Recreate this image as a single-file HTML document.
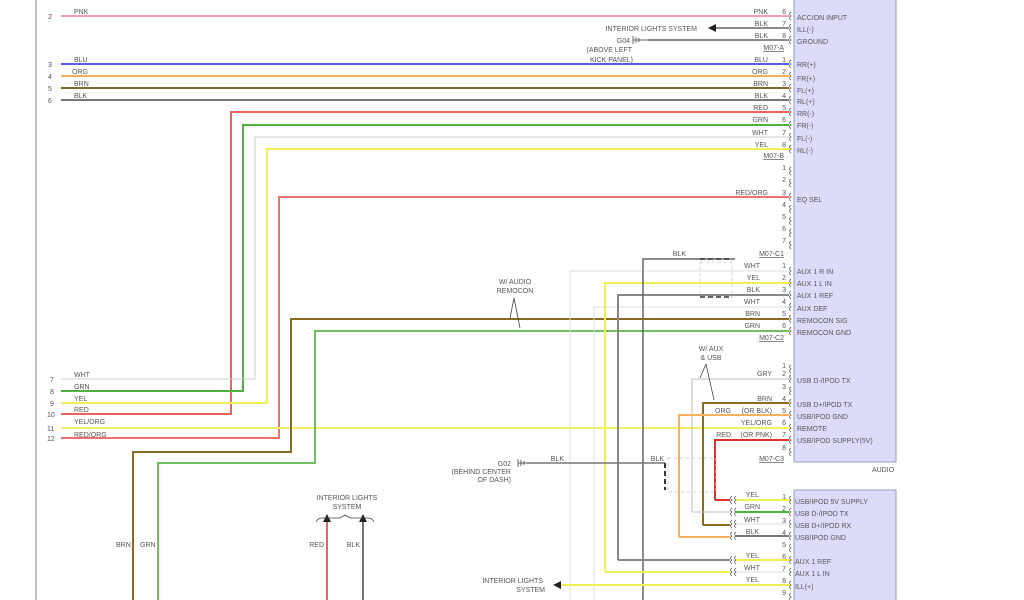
<!DOCTYPE html>
<html><head><meta charset="utf-8"><style>
html,body{margin:0;padding:0;background:#fff;width:1024px;height:600px;overflow:hidden}
text{font-family:"Liberation Sans",sans-serif;font-size:7px;fill:#555}
</style></head><body>
<svg width="1024" height="600" viewBox="0 0 1024 600" xmlns="http://www.w3.org/2000/svg">
<line x1="36" y1="0" x2="36" y2="600" stroke="#aaa" stroke-width="1.5"/>
<!-- boxes -->
<rect x="794" y="-2" width="102" height="464" fill="#dcdcfa" stroke="#9a9ac6"/>
<rect x="794" y="490" width="102" height="112" fill="#dcdcfa" stroke="#9a9ac6"/>
<text x="872" y="472">AUDIO</text>

<g fill="none" stroke-width="2">
<line x1="61" y1="16" x2="789" y2="16" stroke="#f4a0b0"/>
<line x1="61" y1="64" x2="789" y2="64" stroke="#5a5ae6"/>
<line x1="61" y1="76" x2="789" y2="76" stroke="#f3b060"/>
<line x1="61" y1="88" x2="789" y2="88" stroke="#7a6a30"/>
<line x1="61" y1="100" x2="789" y2="100" stroke="#777"/>
<polyline points="61,414 231,414 231,112 789,112" stroke="#f06060"/>
<polyline points="61,391 243,391 243,125 789,125" stroke="#50b040"/>
<polyline points="61,379 255,379 255,137 789,137" stroke="#ccc" stroke-width="1"/>
<polyline points="61,403 267,403 267,149 789,149" stroke="#f0f050"/>
<polyline points="61,438 279,438 279,197 789,197" stroke="#f07070"/>
<line x1="61" y1="428" x2="789" y2="428" stroke="#f4ee60"/>
<polyline points="133,600 133,452 291,452 291,319 789,319" stroke="#8a6a20"/>
<polyline points="158,600 158,463 315,463 315,331 789,331" stroke="#70c060"/>
<polyline points="570,600 570,271 789,271" stroke="#ddd" stroke-width="1"/>
<polyline points="594,600 594,307 789,307" stroke="#ddd" stroke-width="1"/>
<polyline points="605,572 605,283 789,283" stroke="#f0f050"/>
<polyline points="618,560 618,295 789,295" stroke="#888"/>
<polyline points="643,600 643,259 735,259" stroke="#666" stroke-width="1.5"/>
<polyline points="692,512 692,379 789,379" stroke="#bbb" stroke-width="1"/>
<polyline points="703,525 703,403 789,403" stroke="#8a6a20"/>
<polyline points="679,537 679,415 789,415" stroke="#f6b060"/>
<polyline points="715,500 715,440 789,440" stroke="#e03030"/>
<line x1="527" y1="463" x2="665" y2="463" stroke="#777" stroke-width="1.5"/>
<line x1="665" y1="463" x2="665" y2="490" stroke="#333" stroke-width="2" stroke-dasharray="5,3"/>
<line x1="735" y1="500" x2="789" y2="500" stroke="#f0f050"/>
<line x1="735" y1="512" x2="789" y2="512" stroke="#50b040"/>
<line x1="735" y1="524" x2="789" y2="524" stroke="#ddd" stroke-width="1"/>
<line x1="735" y1="536" x2="789" y2="536" stroke="#777"/>
<line x1="735" y1="560" x2="789" y2="560" stroke="#f0f050"/>
<line x1="735" y1="572" x2="789" y2="572" stroke="#ddd" stroke-width="1"/>
<line x1="560" y1="585" x2="789" y2="585" stroke="#f0f050"/>
<line x1="327" y1="520" x2="327" y2="600" stroke="#f06060"/>
<line x1="363" y1="520" x2="363" y2="600" stroke="#444" stroke-width="1.5"/>
<line x1="715" y1="28" x2="789" y2="28" stroke="#444" stroke-width="1.2"/>
<line x1="648" y1="40" x2="789" y2="40" stroke="#444" stroke-width="1.2"/>
<line x1="618" y1="463" x2="618" y2="463"/>
</g>
<!-- dashed shield boxes -->
<g fill="none" stroke="#ccc" stroke-dasharray="3,3">
<rect x="700" y="262" width="32" height="35"/>
<rect x="668" y="458" width="48" height="34"/>
</g>
<line x1="700" y1="259" x2="732" y2="259" stroke="#333" stroke-width="1.5" stroke-dasharray="5,3"/>
<line x1="700" y1="297" x2="732" y2="297" stroke="#333" stroke-width="1.5" stroke-dasharray="5,3"/>
<!-- arrows -->
<g fill="#222">
<polygon points="708,28 716,24 716,32"/>
<polygon points="553,585 561,581 561,589"/>
<polygon points="327,514 323,522 331,522"/>
<polygon points="363,514 359,522 367,522"/>
</g>
<g stroke="#444" fill="none" stroke-width="0.8">
<path d="M514,298 L510,318 M514,298 L520,328"/>
<path d="M706,364 L700,378 M706,364 L714,400"/>
<path d="M316,522 q2,-4 6,-4 h18 l5,-3 l5,3 h18 q4,0 6,4"/>
<line x1="633" y1="36" x2="633" y2="44"/><line x1="636" y1="37" x2="636" y2="43"/><line x1="639" y1="38" x2="639" y2="42"/><line x1="633" y1="40" x2="648" y2="40"/>
<line x1="518" y1="459" x2="518" y2="467"/><line x1="521" y1="460" x2="521" y2="466"/><line x1="524" y1="461" x2="524" y2="465"/><line x1="518" y1="463" x2="527" y2="463"/>
</g>
<!-- connector pin curls -->
<g fill="none" stroke="#666" stroke-width="0.8">
<path d="M791,12 q-3,2 0,4 q-3,2 0,4 M791,24 q-3,2 0,4 q-3,2 0,4 M791,36 q-3,2 0,4 q-3,2 0,4
M791,60 q-3,2 0,4 q-3,2 0,4 M791,72 q-3,2 0,4 q-3,2 0,4 M791,84 q-3,2 0,4 q-3,2 0,4 M791,96 q-3,2 0,4 q-3,2 0,4 M791,108 q-3,2 0,4 q-3,2 0,4 M791,121 q-3,2 0,4 q-3,2 0,4 M791,133 q-3,2 0,4 q-3,2 0,4 M791,145 q-3,2 0,4 q-3,2 0,4
M791,167 q-3,2 0,4 q-3,2 0,4 M791,179 q-3,2 0,4 q-3,2 0,4 M791,193 q-3,2 0,4 q-3,2 0,4 M791,205 q-3,2 0,4 q-3,2 0,4 M791,217 q-3,2 0,4 q-3,2 0,4 M791,229 q-3,2 0,4 q-3,2 0,4 M791,241 q-3,2 0,4 q-3,2 0,4
M791,267 q-3,2 0,4 q-3,2 0,4 M791,279 q-3,2 0,4 q-3,2 0,4 M791,291 q-3,2 0,4 q-3,2 0,4 M791,303 q-3,2 0,4 q-3,2 0,4 M791,315 q-3,2 0,4 q-3,2 0,4 M791,327 q-3,2 0,4 q-3,2 0,4
M791,365 q-3,2 0,4 q-3,2 0,4 M791,375 q-3,2 0,4 q-3,2 0,4 M791,387 q-3,2 0,4 q-3,2 0,4 M791,399 q-3,2 0,4 q-3,2 0,4 M791,411 q-3,2 0,4 q-3,2 0,4 M791,424 q-3,2 0,4 q-3,2 0,4 M791,436 q-3,2 0,4 q-3,2 0,4 M791,448 q-3,2 0,4 q-3,2 0,4
M791,496 q-3,2 0,4 q-3,2 0,4 M791,508 q-3,2 0,4 q-3,2 0,4 M791,520 q-3,2 0,4 q-3,2 0,4 M791,532 q-3,2 0,4 q-3,2 0,4 M791,544 q-3,2 0,4 q-3,2 0,4 M791,556 q-3,2 0,4 q-3,2 0,4 M791,568 q-3,2 0,4 q-3,2 0,4 M791,581 q-3,2 0,4 q-3,2 0,4 M791,593 q-3,2 0,4 q-3,2 0,4
M732,496 q-3,2 0,4 q-3,2 0,4 M736,496 q-3,2 0,4 q-3,2 0,4 M732,508 q-3,2 0,4 q-3,2 0,4 M736,508 q-3,2 0,4 q-3,2 0,4 M732,520 q-3,2 0,4 q-3,2 0,4 M736,520 q-3,2 0,4 q-3,2 0,4 M732,532 q-3,2 0,4 q-3,2 0,4 M736,532 q-3,2 0,4 q-3,2 0,4 M732,556 q-3,2 0,4 q-3,2 0,4 M736,556 q-3,2 0,4 q-3,2 0,4 M732,568 q-3,2 0,4 q-3,2 0,4 M736,568 q-3,2 0,4 q-3,2 0,4"/>
</g>
<g stroke-width="2" fill="none">
<line x1="715" y1="500" x2="730" y2="500" stroke="#e03030"/>
<line x1="692" y1="512" x2="730" y2="512" stroke="#bbb" stroke-width="1"/>
<line x1="703" y1="525" x2="730" y2="525" stroke="#8a6a20"/>
<line x1="679" y1="537" x2="730" y2="537" stroke="#f6b060"/>
<line x1="618" y1="560" x2="730" y2="560" stroke="#888"/>
<line x1="605" y1="572" x2="730" y2="572" stroke="#f0f050"/>
</g>

<!-- left pin numbers & labels -->
<text x="48" y="19">2</text><text x="74" y="14">PNK</text>
<text x="48" y="67">3</text><text x="74" y="62">BLU</text>
<text x="48" y="79">4</text><text x="72" y="74">ORG</text>
<text x="48" y="91">5</text><text x="74" y="86">BRN</text>
<text x="48" y="103">6</text><text x="74" y="98">BLK</text>
<text x="50" y="382">7</text><text x="74" y="377">WHT</text>
<text x="50" y="394">8</text><text x="74" y="389">GRN</text>
<text x="50" y="406">9</text><text x="74" y="401">YEL</text>
<text x="47" y="417">10</text><text x="74" y="412">RED</text>
<text x="47" y="431">11</text><text x="74" y="424">YEL/ORG</text>
<text x="47" y="441">12</text><text x="74" y="437">RED/ORG</text>
<text x="116" y="547">BRN</text><text x="140" y="547">GRN</text>

<!-- right wire labels -->
<g text-anchor="end">
<text x="768" y="14">PNK</text><text x="786" y="14">6</text>
<text x="768" y="26">BLK</text><text x="786" y="26">7</text>
<text x="768" y="38">BLK</text><text x="786" y="38">8</text>
<text x="784" y="50" text-decoration="underline">M07-A</text>
<text x="768" y="62">BLU</text><text x="786" y="62">1</text>
<text x="768" y="74">ORG</text><text x="786" y="74">2</text>
<text x="768" y="86">BRN</text><text x="786" y="86">3</text>
<text x="768" y="98">BLK</text><text x="786" y="98">4</text>
<text x="768" y="110">RED</text><text x="786" y="110">5</text>
<text x="768" y="122">GRN</text><text x="786" y="122">6</text>
<text x="768" y="135">WHT</text><text x="786" y="135">7</text>
<text x="768" y="147">YEL</text><text x="786" y="147">8</text>
<text x="784" y="158" text-decoration="underline">M07-B</text>
<text x="786" y="170">1</text><text x="786" y="182">2</text>
<text x="768" y="195">RED/ORG</text><text x="786" y="195">3</text>
<text x="786" y="207">4</text><text x="786" y="219">5</text><text x="786" y="231">6</text><text x="786" y="243">7</text>
<text x="784" y="256" text-decoration="underline">M07-C1</text>
<text x="760" y="268">WHT</text><text x="786" y="268">1</text>
<text x="760" y="280">YEL</text><text x="786" y="280">2</text>
<text x="760" y="292">BLK</text><text x="786" y="292">3</text>
<text x="760" y="304">WHT</text><text x="786" y="304">4</text>
<text x="760" y="316">BRN</text><text x="786" y="316">5</text>
<text x="760" y="328">GRN</text><text x="786" y="328">6</text>
<text x="784" y="340" text-decoration="underline">M07-C2</text>
<text x="786" y="368">1</text>
<text x="772" y="376">GRY</text><text x="786" y="376">2</text>
<text x="786" y="389">3</text>
<text x="772" y="401">BRN</text><text x="786" y="401">4</text>
<text x="772" y="413">(OR BLK)</text><text x="731" y="413">ORG</text><text x="786" y="413">5</text>
<text x="772" y="425">YEL/ORG</text><text x="786" y="425">6</text>
<text x="772" y="437">(OR PNK)</text><text x="731" y="437">RED</text><text x="786" y="437">7</text>
<text x="786" y="450">8</text>
<text x="784" y="461" text-decoration="underline">M07-C3</text>
<text x="686" y="256">BLK</text>
<text x="664" y="461">BLK</text><text x="564" y="461">BLK</text>
<text x="759" y="497">YEL</text><text x="786" y="499">1</text>
<text x="760" y="509">GRN</text><text x="786" y="511">2</text>
<text x="760" y="522">WHT</text><text x="786" y="523">3</text>
<text x="759" y="534">BLK</text><text x="786" y="535">4</text>
<text x="786" y="547">5</text>
<text x="759" y="558">YEL</text><text x="786" y="559">6</text>
<text x="760" y="570">WHT</text><text x="786" y="571">7</text>
<text x="759" y="582">YEL</text><text x="786" y="583">8</text>
<text x="786" y="595">9</text>
<text x="697" y="31">INTERIOR LIGHTS SYSTEM</text>
<text x="630" y="43">G04</text>
<text x="632" y="52">(ABOVE LEFT</text>
<text x="633" y="62">KICK PANEL)</text>
<text x="511" y="466">G02</text>
<text x="511" y="474">(BEHIND CENTER</text>
<text x="511" y="482">OF DASH)</text>
<text x="543" y="583">INTERIOR LIGHTS</text>
<text x="545" y="592">SYSTEM</text>
<text x="324" y="547">RED</text>
<text x="360" y="547">BLK</text>
</g>
<g text-anchor="middle">
<text x="515" y="284">W/ AUDIO</text><text x="515" y="293">REMOCON</text>
<text x="711" y="351">W/ AUX</text><text x="711" y="360">&amp; USB</text>
<text x="347" y="500">INTERIOR LIGHTS</text><text x="347" y="509">SYSTEM</text>
</g>
<!-- right box labels -->
<g>
<text x="797" y="20">ACC/ON INPUT</text><text x="797" y="32">ILL(-)</text><text x="797" y="44">GROUND</text>
<text x="797" y="67">RR(+)</text><text x="797" y="81">FR(+)</text><text x="797" y="93">FL(+)</text><text x="797" y="104">RL(+)</text>
<text x="797" y="116">RR(-)</text><text x="797" y="128">FR(-)</text><text x="797" y="141">FL(-)</text><text x="797" y="153">RL(-)</text>
<text x="797" y="202">EQ SEL</text>
<text x="797" y="274">AUX 1 R IN</text><text x="797" y="286">AUX 1 L IN</text><text x="797" y="298">AUX 1 REF</text>
<text x="797" y="311">AUX DEF</text><text x="797" y="323">REMOCON SIG</text><text x="797" y="335">REMOCON GND</text>
<text x="797" y="383">USB D-/IPOD TX</text><text x="797" y="407">USB D+/IPOD TX</text><text x="797" y="419">USB/IPOD GND</text>
<text x="797" y="431">REMOTE</text><text x="797" y="443">USB/IPOD SUPPLY(5V)</text>
<text x="795" y="504">USB/IPOD 5V SUPPLY</text><text x="795" y="516">USB D-/IPOD TX</text><text x="795" y="528">USB D+/IPOD RX</text>
<text x="795" y="540">USB/IPOD GND</text><text x="795" y="564">AUX 1 REF</text><text x="795" y="576">AUX 1 L IN</text><text x="795" y="589">ILL(+)</text>
</g>
</svg>
</body></html>
